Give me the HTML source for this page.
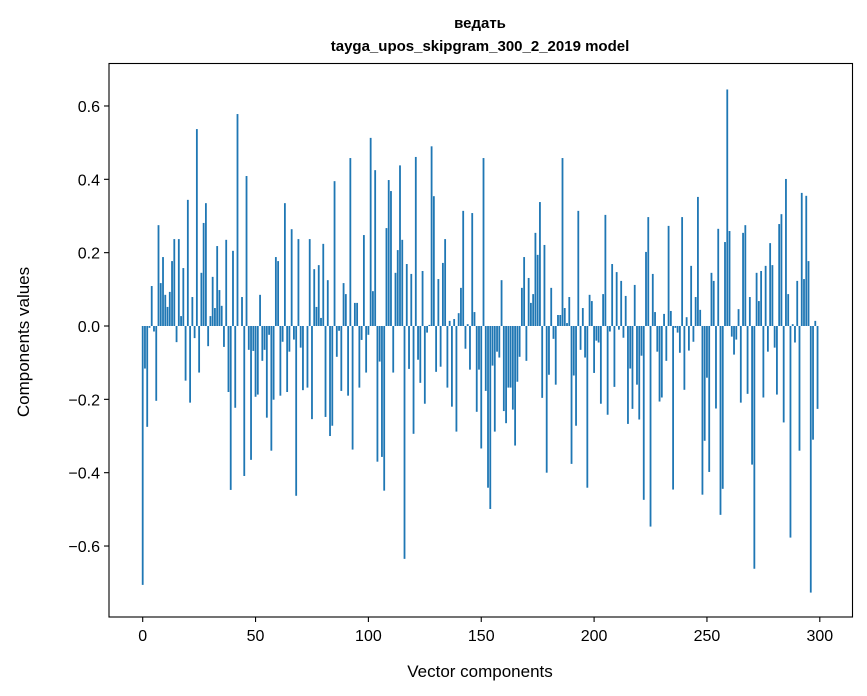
<!DOCTYPE html>
<html><head><meta charset="utf-8"><style>
html,body{margin:0;padding:0;background:#fff;}
svg{display:block;font-family:"Liberation Sans","DejaVu Sans",sans-serif;}
</style></head><body>
<svg id="chart" width="867" height="696" viewBox="0 0 867 696">
<rect x="0" y="0" width="867" height="696" fill="#fff"/>
<text x="480" y="28" text-anchor="middle" font-size="15" font-weight="bold">ведать</text>
<text x="480" y="51" text-anchor="middle" font-size="15" font-weight="bold">tayga_upos_skipgram_300_2_2019 model</text>
<g id="bars"></g>
<g id="axes"></g>
<text x="480" y="677" text-anchor="middle" font-size="17">Vector components</text>
<text transform="translate(29,342) rotate(-90)" text-anchor="middle" font-size="17">Components values</text>
</svg>
<script>
const xTicks = [0,50,100,150,200,250,300];
const yTicks = [-0.6,-0.4,-0.2,0.0,0.2,0.4,0.6];
const yTickLabels = ["\u22120.6","\u22120.4","\u22120.2","0.0","0.2","0.4","0.6"];
const values = [
-0.706,-0.116,-0.275,-0.005,0.109,-0.015,-0.204,0.275,0.117,0.188,
0.085,0.052,0.093,0.177,0.237,-0.044,0.237,0.027,0.158,-0.149,
0.344,-0.209,0.079,-0.033,0.537,-0.127,0.145,0.281,0.335,-0.055,
0.027,0.134,0.049,0.218,0.098,0.055,-0.057,0.235,-0.18,-0.447,
0.205,-0.223,0.578,0.0,0.079,-0.409,0.409,-0.065,-0.365,-0.068,
-0.193,-0.187,0.085,-0.095,-0.065,-0.25,-0.024,-0.34,-0.201,0.188,
0.177,-0.19,-0.043,0.335,-0.18,-0.07,0.264,-0.037,-0.463,0.237,
-0.059,-0.175,0.0,-0.168,0.237,-0.254,0.155,0.052,0.166,0.022,
0.224,-0.248,0.125,-0.3,-0.272,0.395,-0.084,-0.013,-0.177,0.117,
0.087,-0.19,0.458,-0.337,0.063,0.063,-0.168,-0.038,0.248,-0.127,
-0.024,0.513,0.095,0.425,-0.37,-0.097,-0.357,-0.449,0.267,0.398,
0.368,-0.127,0.145,0.207,0.438,0.235,-0.635,0.169,-0.117,0.142,
-0.294,0.461,-0.092,-0.155,0.15,-0.212,-0.018,0.003,0.49,0.354,
-0.125,0.128,-0.111,0.172,0.237,-0.168,0.014,-0.22,0.019,-0.288,
0.035,0.104,0.314,-0.062,0.005,-0.119,0.308,0.038,-0.234,-0.119,
-0.334,0.458,-0.177,-0.441,-0.499,-0.108,-0.288,-0.07,-0.086,0.125,
-0.232,-0.265,-0.168,-0.168,-0.228,-0.326,-0.152,-0.084,0.104,0.188,
-0.095,0.131,0.063,0.087,0.254,0.194,0.338,-0.196,0.221,-0.4,
-0.133,0.104,-0.035,-0.16,0.03,0.03,0.458,0.049,0.008,0.079,
-0.376,-0.135,-0.272,0.314,-0.065,0.049,-0.086,-0.441,0.085,0.068,
-0.128,-0.04,-0.045,-0.212,0.087,0.303,-0.242,-0.015,0.169,-0.166,
0.147,-0.01,0.123,-0.032,0.082,-0.267,-0.116,-0.226,0.112,-0.16,
-0.255,-0.081,-0.474,0.202,0.297,-0.547,0.142,0.038,-0.07,-0.206,
-0.195,0.033,-0.095,0.273,0.041,-0.446,-0.005,-0.018,-0.073,0.297,
-0.174,0.024,-0.067,0.164,-0.043,0.079,0.352,0.044,-0.46,-0.313,
-0.141,-0.398,0.145,0.123,-0.225,0.265,-0.515,-0.444,0.229,0.645,
0.259,-0.029,-0.078,-0.037,0.046,-0.209,0.254,0.275,-0.185,0.079,
-0.378,-0.662,0.145,0.068,0.15,-0.195,0.164,-0.07,0.226,0.166,
-0.059,-0.187,0.278,0.305,-0.263,0.401,0.087,-0.577,0.005,-0.045,
0.123,-0.34,0.363,0.128,0.355,0.177,-0.727,-0.31,0.014,-0.226
];

const NS = "http://www.w3.org/2000/svg";
const L = 109, R = 852.5, T = 63.5, B = 617;
function xScale(v){ return 142.7 + v * 2.257; }
function yScale(v){ return 326 - v * 366.7; }

const barsG = document.getElementById('bars');
values.forEach(function(v, i){
  const r = document.createElementNS(NS, 'rect');
  const x0 = xScale(i - 0.4), x1 = xScale(i + 0.4);
  const y0 = yScale(Math.max(v, 0)), y1 = yScale(Math.min(v, 0));
  r.setAttribute('x', x0);
  r.setAttribute('width', x1 - x0);
  r.setAttribute('y', y0);
  r.setAttribute('height', Math.max(y1 - y0, 0));
  r.setAttribute('fill', '#1f77b4');
  
  
  barsG.appendChild(r);
});

const axesG = document.getElementById('axes');
const frame = document.createElementNS(NS, 'rect');
frame.setAttribute('x', L); frame.setAttribute('y', T);
frame.setAttribute('width', R - L); frame.setAttribute('height', B - T);
frame.setAttribute('fill', 'none'); frame.setAttribute('stroke', '#000'); frame.setAttribute('stroke-width', '1.1');


axesG.appendChild(frame);

xTicks.forEach(function(t){
  const x = xScale(t);
  const ln = document.createElementNS(NS, 'line');
  ln.setAttribute('x1', x); ln.setAttribute('x2', x);
  ln.setAttribute('y1', B); ln.setAttribute('y2', B + 5);
  ln.setAttribute('stroke', '#000'); ln.setAttribute('stroke-width', '1.1');
  
  
  axesG.appendChild(ln);
  const tx = document.createElementNS(NS, 'text');
  tx.setAttribute('x', x); tx.setAttribute('y', B + 24);
  tx.setAttribute('text-anchor', 'middle'); tx.setAttribute('font-size', '16');
  tx.textContent = String(t);
  
  
  axesG.appendChild(tx);
});

yTicks.forEach(function(t, i){
  const y = yScale(t);
  const ln = document.createElementNS(NS, 'line');
  ln.setAttribute('x1', L - 5); ln.setAttribute('x2', L);
  ln.setAttribute('y1', y); ln.setAttribute('y2', y);
  ln.setAttribute('stroke', '#000'); ln.setAttribute('stroke-width', '1.1');
  
  
  axesG.appendChild(ln);
  const tx = document.createElementNS(NS, 'text');
  tx.setAttribute('x', L - 9); tx.setAttribute('y', y + 6);
  tx.setAttribute('text-anchor', 'end'); tx.setAttribute('font-size', '16');
  tx.textContent = yTickLabels[i];
  
  
  axesG.appendChild(tx);
});
</script>
</body></html>
